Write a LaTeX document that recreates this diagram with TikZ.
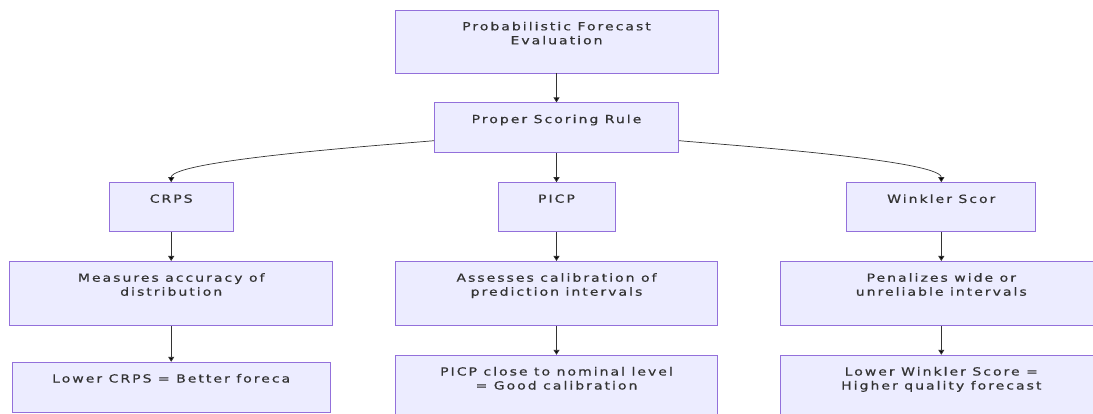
\documentclass[tikz,border=0pt]{standalone}
\usepackage{fontspec}
\newfontfamily\chartfont[FakeStretch=1.25,LetterSpace=18,FakeBold=0.6]{DejaVu Sans}
\usetikzlibrary{positioning,arrows.meta}
\definecolor{boxfill}{HTML}{ECECFF}
\definecolor{boxline}{HTML}{9370DB}
\definecolor{ink}{HTML}{333333}
\tikzset{
  box/.style={draw=boxline, fill=boxfill, line width=0.8pt, inner sep=0pt},
  dims/.style 2 args={minimum width=#1, minimum height=#2},
  txt/.style={anchor=north, align=center, inner sep=0pt, yshift=-12pt,
    font=\chartfont\fontsize{11.2}{14}\selectfont, text=ink},
  arr/.style={-{Triangle[length=5pt,width=6pt]}, draw=ink, line width=0.9pt}
}

\begin{document}
\begin{tikzpicture}[node distance=29pt]
    \useasboundingbox (0,0) rectangle (1093pt,-414pt);
    \node[box,dims={323pt}{63pt},label={[txt]north:{Probabilistic Forecast\\Evaluation}}] (eval) at (556.5pt,-41.5pt) {};
    \node[box,dims={244pt}{50pt},label={[txt]north:Proper Scoring Rule}] (psr) [below=of eval] {};
    \node[box,dims={117pt}{49pt},label={[txt]north:PICP}] (picp) [below=of psr] {};
    \node[box,dims={124pt}{49pt},label={[txt]north:CRPS}] (crps) [left=264pt of picp] {};
    \node[box,dims={189pt}{49pt},label={[txt]north:Winkler Scor}] (wink) [right=231pt of picp] {};
    \node[box,dims={323pt}{64pt},label={[txt]north:{Measures accuracy of\\distribution}}] (meas) [below=of crps] {};
    \node[box,dims={322pt}{64pt},label={[txt]north:{Assesses calibration of\\prediction intervals}}] (asse) [below=of picp] {};
    \node[box,dims={322pt}{64pt},label={[txt]north:{Penalizes wide or\\unreliable intervals}}] (pena) [below=of wink] {};
    \node[box,dims={318pt}{50pt},label={[txt]north:Lower CRPS = Better foreca}] (lowcrps) [below=36pt of meas] {};
    \node[box,dims={322pt}{63pt},label={[txt]north:{PICP close to nominal level\\= Good calibration}}] (picpok) [below=of asse] {};
    \node[box,dims={322pt}{63pt},label={[txt]north:{Lower Winkler Score =\\Higher quality forecast}}] (lowwink) [below=of pena] {};
    \path[arr]
    (eval) edge (psr)
    (psr) edge (picp)
    (psr) edge[out=186,in=90,looseness=0.22,line width=0.7pt] (crps)
    (psr) edge[out=-6,in=90,looseness=0.22,line width=0.7pt] (wink)
    (crps) edge (meas)
    (picp) edge (asse)
    (wink) edge (pena)
    (meas) edge (lowcrps)
    (asse) edge (picpok)
    (pena) edge (lowwink);
  \end{tikzpicture}
\end{document}
